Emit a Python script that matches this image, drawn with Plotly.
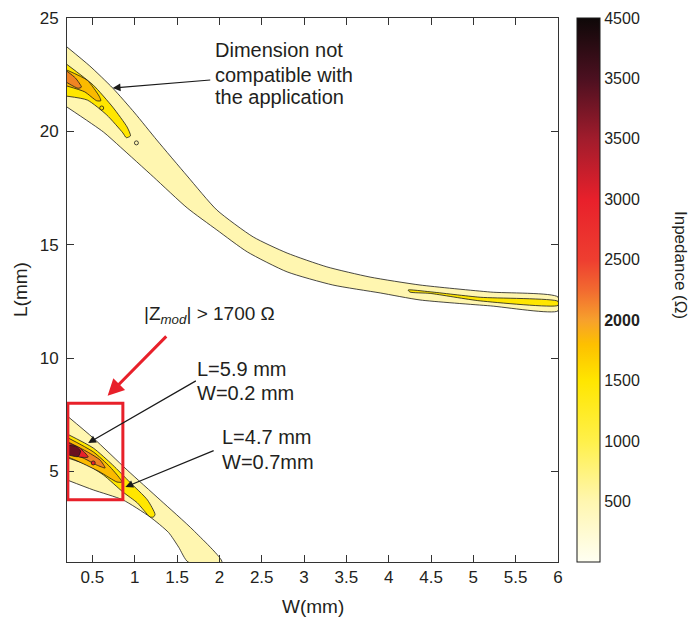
import plotly.graph_objects as go

# ---------------- axes / ticks ----------------
W_RANGE = [0.2, 6.0]
L_RANGE = [1, 25]
x_tickvals = [0.5, 1, 1.5, 2, 2.5, 3, 3.5, 4, 4.5, 5, 5.5, 6]
y_tickvals = [5, 10, 15, 20, 25]

Z_MIN, Z_MAX = 0, 4500
cbar_tickvals = [500, 1000, 1500, 2000, 2500, 3000, 3500, 4000, 4500]
cbar_ticktext = ["500", "1000", "1500", "<b>2000</b>", "2500", "3000", "3500", "3500", "4500"]
cbar_colorscale = [
    [0.000, "#FFFFF2"], [0.111, "#FFF6B0"], [0.222, "#FFF04A"], [0.333, "#FFE600"],
    [0.400, "#FDC000"], [0.444, "#F7A12C"], [0.500, "#F26A30"], [0.555, "#EE3E30"],
    [0.666, "#E8202B"], [0.777, "#A11C2C"], [0.888, "#4C1020"], [1.000, "#0E0808"],
]

# ---------------- contour regions (W mm, L mm) ----------------
# upper ribbon, outer level
up1_W = [0.20, 0.47, 0.74, 1.00, 1.26, 1.62, 1.97, 2.40, 2.80, 3.27, 3.78, 4.37, 5.20, 6.00,
         6.00, 5.20, 4.37, 3.90, 3.34, 2.80, 2.33, 1.97, 1.62, 1.22, 0.83, 0.63, 0.20]
up1_L = [23.72, 22.88, 21.91, 20.81, 19.62, 18.03, 16.53, 15.34, 14.63, 14.02, 13.57, 13.22, 12.91, 12.69,
         12.08, 12.30, 12.56, 12.87, 13.22, 13.80, 14.68, 15.65, 16.62, 17.99, 19.31, 19.97, 21.07]
# upper ribbon, right thin strip
ur2_W = [4.23, 4.49, 5.08, 6.00, 6.00, 5.08, 4.49, 4.25, 4.23]
ur2_L = [13.00, 12.92, 12.68, 12.50, 12.32, 12.52, 12.85, 12.91, 13.00]
# upper ribbon, top-left inner levels
ul2_W = [0.20, 0.51, 0.74, 0.91, 0.95, 0.90, 0.86, 0.67, 0.44, 0.20]
ul2_L = [22.95, 22.04, 21.07, 20.19, 19.80, 19.72, 19.93, 20.72, 21.38, 21.55]
ul3_W = [0.20, 0.44, 0.58, 0.60, 0.55, 0.41, 0.20]
ul3_L = [22.70, 22.25, 21.55, 21.35, 21.35, 21.74, 22.00]
ul4_W = [0.20, 0.30, 0.37, 0.33, 0.20]
ul4_L = [22.65, 22.35, 21.95, 21.90, 22.15]
# lower ribbon
lo1_W = [0.20, 0.51, 0.91, 1.30, 1.69, 2.03, 1.63, 1.52, 1.40, 1.18, 0.86, 0.51, 0.20]
lo1_L = [7.45, 6.47, 5.06, 3.74, 2.41, 1.00, 1.00, 1.65, 2.30, 2.99, 3.74, 4.18, 4.62]
lo2_W = [0.20, 0.51, 0.74, 0.94, 1.15, 1.24, 1.22, 1.18, 1.03, 0.86, 0.63, 0.44, 0.20]
lo2_L = [6.65, 6.03, 5.28, 4.53, 3.74, 3.10, 2.98, 2.99, 3.61, 4.09, 4.84, 5.28, 5.60]
lo3_W = [0.20, 0.51, 0.71, 0.85, 0.79, 0.59, 0.35, 0.20]
lo3_L = [6.50, 5.86, 5.19, 4.53, 4.53, 4.97, 5.41, 5.65]
lo4_W = [0.20, 0.44, 0.59, 0.65, 0.55, 0.39, 0.20]
lo4_L = [6.32, 5.86, 5.50, 5.15, 5.28, 5.59, 5.82]
lo5_W = [0.20, 0.35, 0.45, 0.35, 0.20]
lo5_L = [6.27, 6.03, 5.63, 5.63, 5.86]
lo6_W = [0.22, 0.30, 0.36, 0.33, 0.22]
lo6_L = [6.15, 6.10, 5.90, 5.65, 5.72]
# tiny closed contours
dots_W = [0.61, 1.02, 0.51]
dots_L = [21.03, 19.49, 5.37]

band_colors = {1: "#FFF6B0", 2: "#FFE600", 3: "#FBBA00", 4: "#F08423", 5: "#E8212B", 6: "#6A1020"}

regions = [
    (up1_W, up1_L, 1), (ur2_W, ur2_L, 2), (ul2_W, ul2_L, 2), (ul3_W, ul3_L, 3), (ul4_W, ul4_L, 4),
    (lo1_W, lo1_L, 1), (lo2_W, lo2_L, 2), (lo3_W, lo3_L, 3), (lo4_W, lo4_L, 4),
    (lo5_W, lo5_L, 5), (lo6_W, lo6_L, 6),
]
dot_levels = [2, 1, 5]

FONT = "Liberation Sans, Arial, sans-serif"
TXT = "#231F20"

fig = go.Figure()
for wv, lv, lev in regions:
    fig.add_trace(go.Scatter(
        x=wv, y=lv, mode="lines", fill="toself", fillcolor=band_colors[lev],
        line=dict(color="#1A1A1A", width=0.8, shape="spline", smoothing=0.6),
        hoverinfo="skip", showlegend=False))

fig.add_trace(go.Scatter(
    x=dots_W, y=dots_L, mode="markers",
    marker=dict(size=4, color=[band_colors[k] for k in dot_levels], line=dict(color="#1A1A1A", width=0.8)),
    hoverinfo="skip", showlegend=False))

# colour bar
fig.add_trace(go.Scatter(
    x=[None], y=[None], mode="markers", hoverinfo="skip", showlegend=False,
    marker=dict(color=[Z_MIN], colorscale=cbar_colorscale, cmin=Z_MIN, cmax=Z_MAX, showscale=True,
                colorbar=dict(x=1.0387, xanchor="left", y=0.5, yanchor="middle", len=1, lenmode="fraction",
                              thickness=23, thicknessmode="pixels", xpad=0, ypad=0,
                              outlinewidth=1, outlinecolor="#1A1A1A",
                              tickvals=cbar_tickvals, ticktext=cbar_ticktext, ticks="",
                              tickfont=dict(family=FONT, size=16, color=TXT)))))

# red box
fig.add_shape(type="rect", xref="x", yref="y", x0=0.21, x1=0.86, y0=3.75, y1=8.0,
              line=dict(color="#E8202A", width=3))

# text annotations
texts = [
    ("Dimension not", 1.92, 23.59, 20), ("compatible with", 1.92, 22.49, 20), ("the application", 1.92, 21.52, 20),
    ("|Z<sub><i>mod</i></sub>| > 1700 Ω", 1.08, 11.9, 19),
    ("L=5.9 mm", 1.71, 9.52, 20), ("W=0.2 mm", 1.71, 8.46, 20),
    ("L=4.7 mm", 2.01, 6.52, 20), ("W=0.7mm", 2.01, 5.41, 20),
]
for t, x, y, s in texts:
    fig.add_annotation(text=t, x=x, y=y, xref="x", yref="y", xanchor="left", yanchor="middle",
                       showarrow=False, font=dict(family=FONT, size=s, color=TXT))

arrows = [  # (tail W, tail L, tip W, tip L, colour, width, head size)
    (1.91, 22.27, 0.74, 21.91, "#1A1A1A", 1.2, 1.3),
    (1.39, 11.02, 0.68, 8.33, "#E8202A", 3, 1.1),
    (1.74, 9.03, 0.45, 6.25, "#1A1A1A", 1.2, 1.3),
    (1.95, 5.94, 0.89, 4.31, "#1A1A1A", 1.2, 1.3),
]
for ax_, ay_, x, y, c, w, hs in arrows:
    fig.add_annotation(text="", x=x, y=y, ax=ax_, ay=ay_, xref="x", yref="y", axref="x", ayref="y",
                       showarrow=True, arrowhead=2, arrowsize=hs,
                       arrowwidth=w, arrowcolor=c, standoff=0)

# axis titles and colour bar title
fig.add_annotation(text="W(mm)", x=0.501, y=-0.0827, xref="paper", yref="paper",
                   xanchor="center", yanchor="middle", showarrow=False,
                   font=dict(family=FONT, size=19, color=TXT))
fig.add_annotation(text="L(mm)", x=-0.0957, y=0.5, xref="paper", yref="paper", textangle=-90,
                   xanchor="center", yanchor="middle", showarrow=False,
                   font=dict(family=FONT, size=19, color=TXT))
fig.add_annotation(text="Inpedance (Ω)", x=1.2485, y=0.546, xref="paper", yref="paper",
                   xanchor="center", yanchor="middle",
                   textangle=90, showarrow=False, font=dict(family=FONT, size=17, color=TXT))

axis_common = dict(showline=True, linecolor="#333333", linewidth=1, mirror="ticks", ticks="inside",
                   ticklen=7, tickcolor="#333333", showgrid=False, zeroline=False, automargin=False,
                   tickfont=dict(family=FONT, size=17, color=TXT))
fig.update_xaxes(range=W_RANGE, tickvals=x_tickvals, **axis_common)
fig.update_yaxes(range=L_RANGE, tickvals=y_tickvals, ticklabelstandoff=4, **axis_common)

fig.update_layout(width=690, height=620, margin=dict(l=67, r=132, t=18, b=58),
                  paper_bgcolor="white", plot_bgcolor="white", showlegend=False,
                  font=dict(family=FONT, color=TXT))

fig.write_html("out.html")
